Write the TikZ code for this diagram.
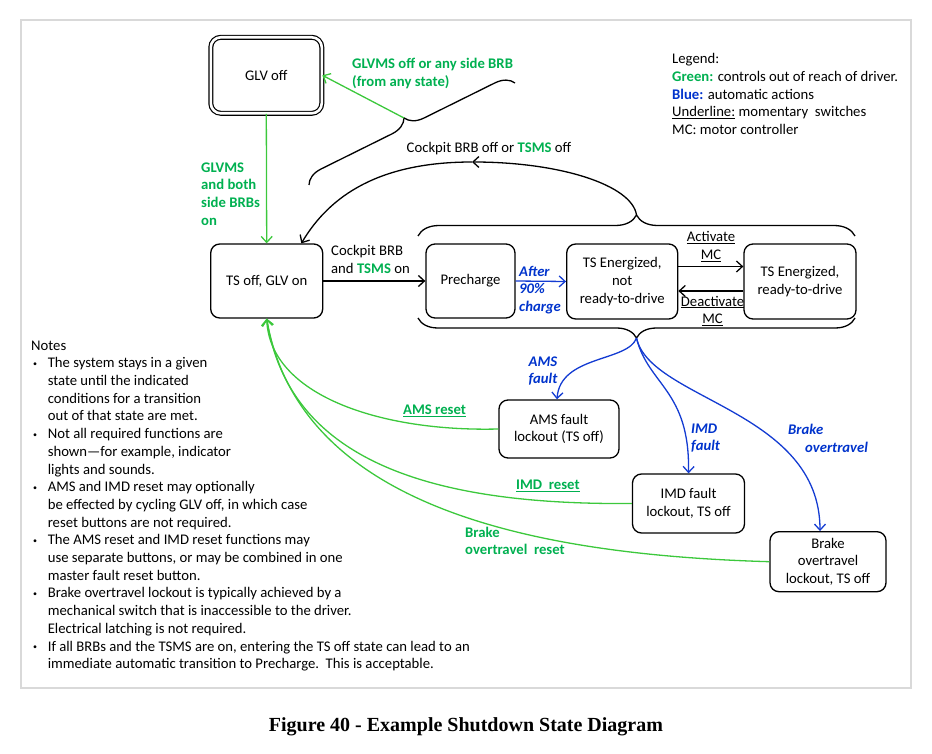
\documentclass[tikz,border=0pt]{standalone}
\usepackage{fontspec}
\setmainfont{Carlito}
\newfontfamily\capfont{Liberation Serif}
\usetikzlibrary{arrows.meta,decorations.pathreplacing}
\definecolor{greenT}{RGB}{0,176,80}
\definecolor{greenL}{RGB}{60,200,60}
\definecolor{blueT}{RGB}{0,51,204}
\definecolor{blueL}{RGB}{20,60,210}
\definecolor{frameG}{RGB}{217,217,217}
\newcommand{\fs}{\fontsize{14.7}{17.7}\selectfont}
\newcommand{\gb}[1]{\textcolor{greenT}{\textbf{#1}}}
\newcommand{\bul}{\makebox[16.6pt][l]{\hspace{2pt}\raisebox{1.5pt}{\fontsize{8}{8}\selectfont\textbullet}}}
\newcommand{\ind}{\hspace*{16.6pt}}
\begin{document}
\begin{tikzpicture}[x=1pt,y=-1pt,
  every node/.style={font=\fs, inner sep=0pt},
  state/.style={draw, rounded corners=9pt, line width=1.3pt, align=center},
  conn/.style={line width=1.3pt, -{Straight Barb[length=6pt,width=11pt]}},
  gconn/.style={conn, greenL},
  bconn/.style={conn, blueL},
  curly/.style={line width=1.3pt, decorate, decoration={brace, amplitude=#1}},
  curlym/.style={line width=1.3pt, decorate, decoration={brace, mirror, amplitude=#1}},
  glbl/.style={text=greenT, font=\fs\bfseries},
  blbl/.style={text=blueT, font=\fs\bfseries\itshape}
]
\useasboundingbox (0,0) rectangle (932,754);
\draw[frameG, line width=2pt] (21,20) rectangle (911,688);

% states
\node[state, double, double distance=2.6pt, line width=1.2pt, rounded corners=10pt, minimum width=111pt, minimum height=76pt] (glv) at (266.3,75.3) {GLV off};
\node[state, minimum width=112pt, minimum height=74pt] (tsoff) at (266.7,281) {TS off, GLV on};
\node[state, minimum width=89pt, minimum height=74pt] (pre) at (470.5,281) {Precharge};
\node[state, minimum width=111pt, minimum height=75pt] (tse1) at (622.2,281.5) {TS Energized,\\not\\ready-to-drive};
\node[state, minimum width=112pt, minimum height=75pt] (tse2) at (800,281.5) {TS Energized,\\ready-to-drive};
\node[state, minimum width=120pt, minimum height=58pt] (ams) at (559,429) {AMS fault\\lockout (TS off)};
\node[state, minimum width=112pt, minimum height=59pt] (imd) at (688.5,503.5) {IMD fault\\lockout, TS off};
\node[state, minimum width=116pt, minimum height=60pt] (brk) at (828,561.7) {Brake\\overtravel\\lockout, TS off};

% braces
\draw[curly=18pt] (309,185) -- (515,83);
\coordinate (tip1) at (404,118);
\draw[curly=21pt] (418,236) -- (855,236);
\coordinate (tip2) at (636.5,215);
\draw[curlym=20pt] (418,318) -- (855,318);
\coordinate (tip3) at (636.5,338);
\coordinate (arcm) at (472,162);

% connectors
\draw[gconn] (tip1) -- (glv.east);
\draw[gconn] (glv.south) -- (tsoff.north);
\draw[conn] (tip2) .. controls (632,185) and (560,162) .. (arcm);
\draw[conn] (arcm) .. controls (380,162) and (330,195) .. ([xshift=-22pt]tsoff.north east);
\draw[conn] (tsoff.east) -- (pre.west);
\draw[bconn] (pre.east) -- (tse1.west);
\draw[conn] ([yshift=15pt]tse1.east) -- ([yshift=15pt]tse2.west);
\draw[conn] ([yshift=-9.5pt]tse2.west) -- ([yshift=-9.5pt]tse1.east);
\draw[bconn] (tip3) .. controls (628,362) and (560,355) .. ([xshift=-2pt]ams.north);
\draw[bconn] (tip3) .. controls (648,385) and (690,390) .. (imd.north);
\draw[bconn] (tip3) .. controls (650,400) and (820,410) .. ([xshift=-8pt]brk.north);
\draw[gconn] (ams.west) .. controls (380,432) and (270,395) .. (tsoff.south);
\draw[gconn] (imd.west) .. controls (450,505) and (290,470) .. (tsoff.south);
\draw[gconn] (brk.west) .. controls (540,555) and (300,510) .. (tsoff.south);

% labels
\node[glbl, anchor=west, align=left] (lglvoff) at (352,73.5) {GLVMS off or any side BRB\\(from any state)};
\node[glbl, anchor=west, align=left] (lglvon) at (201,194) {GLVMS\\and both\\side BRBs\\on};
\node (lcock) at (489,149) {Cockpit BRB off or \gb{TSMS} off};
\node[anchor=west, align=left] (lcock2) at (331,259.5) {Cockpit BRB\\and \gb{TSMS} on};
\node[blbl, anchor=west, align=left] (lafter) at (519,290) {After\\90\%\\charge};
\node[align=center] (lact) at (711,246.5) {\underline{Activate}\\\underline{MC}};
\node[align=center] (ldeact) at (712.5,311) {\underline{Deactivate}\\\underline{MC}};
\node[blbl, align=center] (lams) at (543,371) {AMS\\fault};
\node[blbl, anchor=west, align=left] (limd) at (691,438) {IMD\\fault};
\node[blbl, anchor=west] (lbrk1) at (788,429) {Brake};
\node[blbl, anchor=west] (lbrk2) at (805,447) {overtravel};
\node[glbl, anchor=west] (lamsr) at (403,411) {\underline{AMS reset}};
\node[glbl, anchor=west] (limdr) at (516,486) {\underline{IMD\ \ reset}};
\node[glbl, anchor=west, align=left] (lbrkr) at (465,541) {Brake\\overtravel\ \ reset};

\node[anchor=west, align=left] (legend) at (672,94) {Legend:\\\gb{Green:} controls out of reach of driver.\\\textcolor{blueT}{\textbf{Blue:}} automatic actions\\\underline{Underline:} momentary\ \ switches\\MC: motor\ controller};

\node[anchor=west, align=left] (notes) at (31,506) {Notes\\
\bul The system stays in a given\\
\ind state until the indicated\\
\ind conditions for a transition\\
\ind out of that state are met.\\
\bul Not all required functions are\\
\ind shown---for example, indicator\\
\ind lights and sounds.\\
\bul AMS and IMD reset may optionally\\
\ind be effected by cycling GLV off, in which case\\
\ind reset buttons are not required.\\
\bul The AMS reset and IMD reset functions may\\
\ind use separate buttons, or may be combined in one\\
\ind master fault reset button.\\
\bul Brake overtravel lockout is typically achieved by a\\
\ind mechanical switch that is inaccessible to the driver.\\
\ind Electrical latching is not required.\\
\bul If all BRBs and the TSMS are on, entering the TS off state can lead to an\\
\ind immediate automatic transition to Precharge.\ \ This is acceptable.};

\node[font=\capfont\fontsize{20}{23}\selectfont\bfseries] (cap) at (466,727) {Figure 40 - Example Shutdown State Diagram};
\end{tikzpicture}
\end{document}
